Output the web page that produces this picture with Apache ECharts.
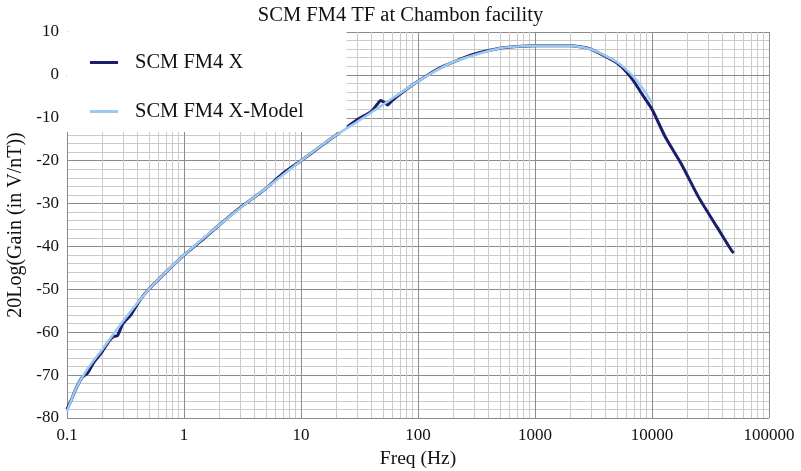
<!DOCTYPE html>
<html>
<head>
<meta charset="utf-8">
<script src="https://cdn.jsdelivr.net/npm/echarts@6/dist/echarts.min.js"></script>
<style>
  html, body { margin: 0; padding: 0; background: #fff; }
  #chart { width: 801px; height: 471px; }
</style>
</head>
<body>
<div id="chart"></div>
<script>
// measured transfer function (Hz, dB)
const measuredFreq = [0.1, 0.11, 0.12, 0.135, 0.15, 0.17, 0.2, 0.23, 0.25, 0.27, 0.3, 0.35, 0.42, 0.5, 0.7, 1, 1.5, 2, 3, 4, 5, 7, 10, 15, 20, 30, 40, 45, 48, 52, 55, 60, 70, 100, 150, 200, 300, 500, 700, 1000, 2000, 2500, 3000, 4000, 5000, 6000, 7000, 8000, 10000, 13000, 18000, 25000, 36000, 48000, 50000]
const measuredDb = [-78, -75.5, -73, -70.5, -69.5, -67, -64.5, -62, -61, -60.8, -58, -56, -52.5, -50, -46, -42, -38, -35, -31, -28.5, -26.5, -23, -20, -16.5, -14, -10.5, -8.5, -6.8, -6, -6.5, -7, -6, -4.5, -1.5, 1.5, 3, 4.8, 6.2, 6.6, 6.8, 6.8, 6.5, 6, 4.3, 2.8, 0.8, -1.5, -4, -8, -14.5, -21, -28.5, -35.5, -41, -41.5]

// model
const modelFreq = [0.1, 0.12, 0.15, 0.2, 0.3, 0.5, 1, 2, 3.45, 5, 10, 20, 30, 50, 100, 200, 500, 1000, 2000, 3000, 5000, 7000, 8500, 10000]
const modelDb = [-78.5, -73, -68.5, -64, -57.5, -50, -42, -35, -29.8, -26.5, -20, -14, -11, -7, -1.5, 3, 6.2, 6.8, 6.8, 6, 3, -0.5, -3.5, -6.5]

const xTicks = [0.1, 1, 10, 100, 1000, 10000, 100000]

// minor log grid lines 2..9 per decade
const minorX = []
for (let d = 0; d < xTicks.length - 1; d++) {
  for (let k = 2; k <= 9; k++) minorX.push(xTicks[d] * k)
}

const font = 'Liberation Serif'

const myChart = echarts.init(document.getElementById('chart'))

const option = {
  animation: false,
  textStyle: { fontFamily: font, color: '#000' },
  title: {
    text: 'SCM FM4 TF at Chambon facility',
    left: 'center',
    top: 0,
    textStyle: { fontFamily: font, fontSize: 20.5, fontWeight: 'normal', color: '#111' }
  },
  grid: { left: 67, right: 32, top: 32, bottom: 53, outerBoundsMode: 'none', containLabel: false },
  legend: {
    orient: 'vertical',
    left: 67,
    top: 32,
    backgroundColor: '#fff',
    padding: [20, 43, 10, 23],
    itemGap: 28,
    itemWidth: 28,
    itemHeight: 3,
    icon: 'rect',
    textStyle: { fontFamily: font, fontSize: 20.5, color: '#111', padding: [0, 0, 0, 12] },
    data: ['SCM FM4 X', 'SCM FM4 X-Model']
  },
  xAxis: {
    type: 'log',
    logBase: 10,
    min: 0.1,
    max: 100000,
    name: 'Freq (Hz)',
    nameLocation: 'middle',
    nameGap: 30,
    nameTextStyle: { fontFamily: font, fontSize: 19.5, color: '#111' },
    axisLine: { show: true, lineStyle: { color: '#888' } },
    axisTick: { show: false },
    axisLabel: {
      fontFamily: font, fontSize: 17, color: '#111', margin: 9,
      formatter: v => String(Number(v.toPrecision(6)))
    },
    splitLine: { show: true, lineStyle: { color: '#8c8c8c', width: 1 } }
  },
  yAxis: {
    type: 'value',
    min: -80,
    max: 10,
    interval: 10,
    name: '20Log(Gain (in V/nT))',
    nameLocation: 'middle',
    nameGap: 37,
    nameTextStyle: { fontFamily: font, fontSize: 20, color: '#111' },
    axisLine: { show: true, lineStyle: { color: '#888' } },
    axisTick: { show: false },
    axisLabel: { fontFamily: font, fontSize: 17, color: '#111', margin: 8 },
    splitLine: { show: true, lineStyle: { color: '#8c8c8c', width: 1 } },
    minorTick: { show: false, splitNumber: 5 },
    minorSplitLine: { show: true, lineStyle: { color: '#cacaca', width: 1 } }
  },
  series: [
    {
      name: 'SCM FM4 X',
      type: 'line',
      showSymbol: false,
      smooth: 0.2,
      color: '#1b1f6b',
      lineStyle: { color: '#1b1f6b', width: 3 },
      data: measuredFreq.map((f, i) => [f, measuredDb[i]]),
      markLine: {
        silent: true,
        symbol: 'none',
        label: { show: false },
        lineStyle: { color: '#cacaca', width: 1, type: 'solid' },
        z: 0,
        data: minorX.map(v => ({ xAxis: v }))
      },
      z: 3
    },
    {
      name: 'SCM FM4 X-Model',
      type: 'line',
      showSymbol: false,
      smooth: 0.2,
      color: '#9cc9ef',
      lineStyle: { color: '#9cc9ef', width: 2.5 },
      data: modelFreq.map((f, i) => [f, modelDb[i]]),
      z: 4
    }
  ]
}

myChart.setOption(option)
</script>
</body>
</html>
